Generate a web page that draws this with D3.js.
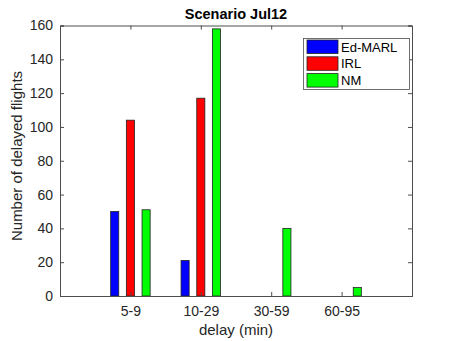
<!DOCTYPE html>
<html>
<head>
<meta charset="utf-8">
<script src="https://cdn.jsdelivr.net/npm/d3@7"></script>
<style>
  body { margin: 0; background: #fff; }
  text { font-family: "Liberation Sans", Arial, sans-serif; }
</style>
</head>
<body>
<script>
// data
let categories = ["5-9", "10-29", "30-59", "60-95"];
let seriesNames = ["Ed-MARL", "IRL", "NM"];
let edMarl = [50, 21, 0, 0];
let irl = [104, 117, 0, 0];
let nm = [51, 158, 40, 5];
let yTicks = [0, 20, 40, 60, 80, 100, 120, 140, 160];
let colors = ["#0000ff", "#ff0000", "#00ff00"];

let series = [edMarl, irl, nm];

let w = 455, h = 341;
let mLeft = 60, mRight = 412, mTop = 25.5, mBottom = 296;

let svg = d3.select("body").append("svg")
    .attr("width", w)
    .attr("height", h);

// x runs 0..5 with categories at 1..4
let x = d3.scaleLinear().domain([0, 5]).range([mLeft, mRight]);
let y = d3.scaleLinear().domain([0, 160]).range([mBottom, mTop]);

let offset = 0.223, barW = 0.115;

// bars, one group per series (zero values are not drawn)
series.forEach(function(vals, s) {
    let pts = vals.map(function(v, i) { return {v: v, i: i}; })
        .filter(function(d) { return d.v > 0; });
    svg.append("g").selectAll("rect")
        .data(pts)
        .enter()
        .append("rect")
        .attr("x", function(d) { return x(d.i + 1 + (s - 1) * offset - barW / 2); })
        .attr("width", x(barW) - x(0))
        .attr("y", function(d) { return y(d.v); })
        .attr("height", function(d) { return y(0) - y(d.v); })
        .attr("fill", colors[s])
        .attr("stroke", "#222")
        .attr("stroke-width", 0.8);
});

let axisColor = "#4d4d4d";
let tickPos = [1, 2, 3, 4];

// axes with inward ticks on all four sides
let xAxis = svg.append("g")
    .attr("transform", "translate(0," + mBottom + ")")
    .call(d3.axisBottom(x).tickValues(tickPos).tickFormat(function(d) { return categories[d - 1]; })
        .tickSize(-4).tickPadding(10));
let xTop = svg.append("g")
    .attr("transform", "translate(0," + mTop + ")")
    .call(d3.axisTop(x).tickValues(tickPos).tickFormat("").tickSize(-4));
let yAxis = svg.append("g")
    .attr("transform", "translate(" + mLeft + ",0)")
    .call(d3.axisLeft(y).tickValues(yTicks).tickSize(-4).tickPadding(7));
let yRight = svg.append("g")
    .attr("transform", "translate(" + mRight + ",0)")
    .call(d3.axisRight(y).tickValues(yTicks).tickFormat("").tickSize(-4));

[xAxis, xTop, yAxis, yRight].forEach(function(g) {
    g.select(".domain").attr("stroke", axisColor);
    g.selectAll(".tick line").attr("stroke", axisColor);
    g.selectAll(".tick text")
        .attr("fill", "#262626")
        .style("font-size", "14px")
        .style("font-family", "'Liberation Sans', Arial, sans-serif");
});

// title and labels
svg.append("text")
    .attr("x", (mLeft + mRight) / 2)
    .attr("y", 19)
    .attr("text-anchor", "middle")
    .style("font-size", "14.5px")
    .style("font-weight", "bold")
    .attr("fill", "#000")
    .text("Scenario Jul12");

svg.append("text")
    .attr("x", (mLeft + mRight) / 2)
    .attr("y", 335)
    .attr("text-anchor", "middle")
    .style("font-size", "15px")
    .attr("fill", "#262626")
    .text("delay (min)");

svg.append("text")
    .attr("transform", "translate(22,156) rotate(-90)")
    .attr("text-anchor", "middle")
    .style("font-size", "15px")
    .attr("fill", "#262626")
    .text("Number of delayed flights");

// legend
let lg = svg.append("g");
lg.append("rect")
    .attr("x", 303.5).attr("y", 38.5)
    .attr("width", 106).attr("height", 51)
    .attr("fill", "#fff")
    .attr("stroke", axisColor)
    .attr("stroke-width", 0.8);
seriesNames.forEach(function(name, s) {
    let yy = 40 + s * 16.8;
    lg.append("rect")
        .attr("x", 307).attr("y", yy)
        .attr("width", 31).attr("height", 13.5)
        .attr("fill", colors[s])
        .attr("stroke", "#222")
        .attr("stroke-width", 0.8);
    lg.append("text")
        .attr("x", 341).attr("y", yy + 11.5)
        .style("font-size", "13px")
        .attr("fill", "#000")
        .text(name);
});
</script>
</body>
</html>
